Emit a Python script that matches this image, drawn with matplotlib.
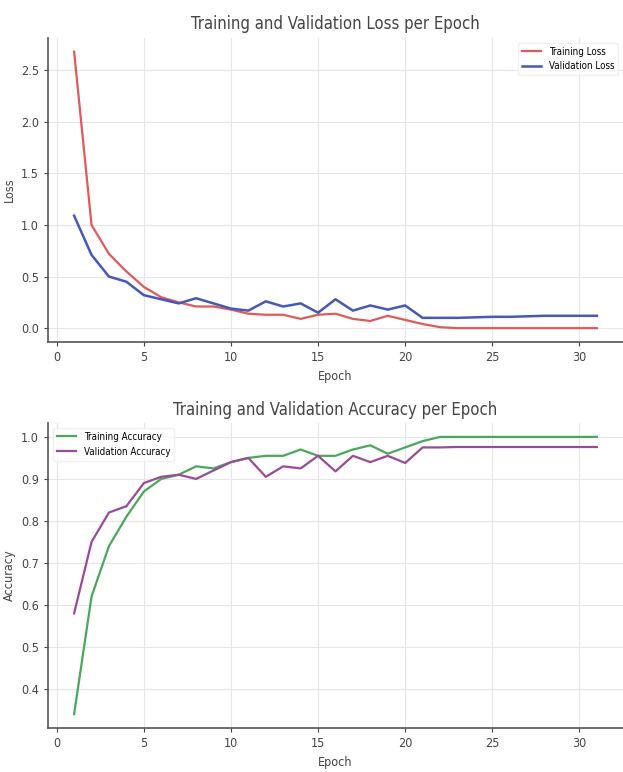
import numpy as np
import matplotlib
matplotlib.use('Agg')
import matplotlib.pyplot as plt

plt.rcParams['font.family'] = ['Liberation Sans Narrow', 'DejaVu Sans']
plt.rcParams['font.stretch'] = 'condensed'

# values
epochs = list(range(1, 32))
train_loss = [2.68, 1.00, 0.72, 0.55, 0.40, 0.30, 0.25, 0.21, 0.21, 0.18,
              0.14, 0.13, 0.13, 0.09, 0.13, 0.14, 0.09, 0.07, 0.12, 0.08,
              0.04, 0.01, 0.00, 0.00, 0.00, 0.00, 0.00, 0.00, 0.00, 0.00, 0.00]
val_loss = [1.09, 0.71, 0.50, 0.45, 0.32, 0.28, 0.24, 0.29, 0.24, 0.19,
            0.17, 0.26, 0.21, 0.24, 0.15, 0.28, 0.17, 0.22, 0.18, 0.22,
            0.10, 0.10, 0.10, 0.105, 0.11, 0.11, 0.115, 0.12, 0.12, 0.12, 0.12]
train_acc = [0.34, 0.62, 0.74, 0.81, 0.87, 0.90, 0.91, 0.93, 0.925, 0.94,
             0.95, 0.955, 0.955, 0.97, 0.955, 0.955, 0.97, 0.98, 0.96, 0.975,
             0.99, 1.0, 1.0, 1.0, 1.0, 1.0, 1.0, 1.0, 1.0, 1.0, 1.0]
val_acc = [0.58, 0.75, 0.82, 0.835, 0.89, 0.905, 0.91, 0.90, 0.92, 0.94,
           0.95, 0.905, 0.93, 0.925, 0.955, 0.918, 0.955, 0.94, 0.955, 0.938,
           0.975, 0.975, 0.976, 0.976, 0.976, 0.976, 0.976, 0.976, 0.976, 0.976, 0.976]

fig = plt.figure(figsize=(6.23, 7.72), dpi=100)
ax1 = fig.add_axes([0.077, 0.557, 0.923, 0.394])
ax2 = fig.add_axes([0.077, 0.057, 0.923, 0.395])


def style(ax):
    for s in ['top', 'right']:
        ax.spines[s].set_visible(False)
    for s in ['left', 'bottom']:
        ax.spines[s].set_color('#555555')
        ax.spines[s].set_linewidth(1.2)
    ax.grid(True, color='#e6e6e6', linewidth=0.8)
    ax.set_axisbelow(True)
    ax.tick_params(labelsize=9, colors='#444444', length=3)
    ax.set_xticks([0, 5, 10, 15, 20, 25, 30])
    ax.set_xlabel('Epoch', fontsize=9, color='#444444')


ax1.plot(epochs, train_loss, color='#e05a5a', linewidth=1.6, label='Training Loss')
ax1.plot(epochs, val_loss, color='#4658b8', linewidth=1.8, label='Validation Loss')
ax1.set_title('Training and Validation Loss per Epoch', fontsize=12, color='#444444')
ax1.set_ylabel('Loss', fontsize=9, color='#444444')
style(ax1)
ax1.legend(loc='upper right', fontsize=7, framealpha=0.8, edgecolor='#eeeeee')

ax2.plot(epochs, train_acc, color='#4aa85a', linewidth=1.6, label='Training Accuracy')
ax2.plot(epochs, val_acc, color='#9a4a9a', linewidth=1.6, label='Validation Accuracy')
ax2.set_title('Training and Validation Accuracy per Epoch', fontsize=12, color='#444444')
ax2.set_ylabel('Accuracy', fontsize=9, color='#444444')
style(ax2)
ax2.legend(loc='upper left', fontsize=7, framealpha=0.8, edgecolor='#eeeeee')

fig.savefig('out.png', dpi=100)
